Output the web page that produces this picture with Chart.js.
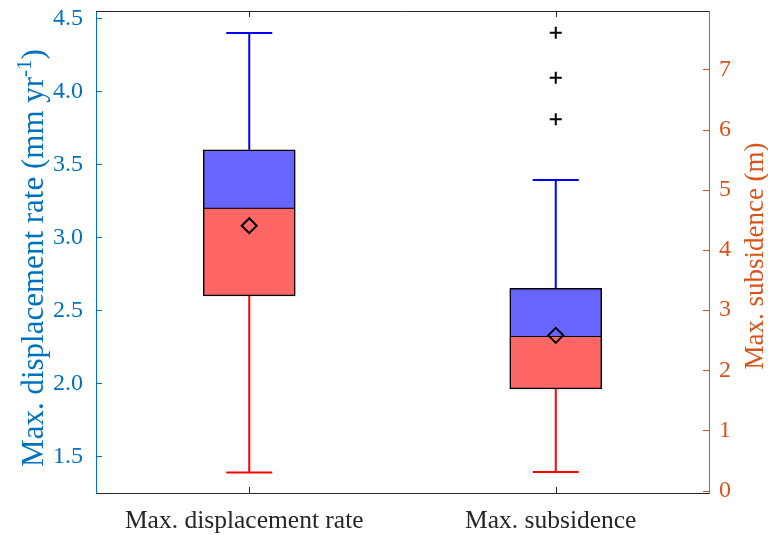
<!DOCTYPE html>
<html>
<head>
<meta charset="utf-8">
<script src="https://cdn.jsdelivr.net/npm/chart.js@4.4.1/dist/chart.umd.min.js"></script>
<style>
  html, body { margin: 0; padding: 0; background: #fff; }
  #wrap { width: 768px; height: 535px; }
</style>
</head>
<body>
<div id="wrap"><canvas id="box"></canvas></div>
<script>
const categories = ['Max. displacement rate', 'Max. subsidence'];
const lowerWhisker = [1.39, 0.31];
const q1 = [2.6, 1.69];
const medians = [3.2, 2.56];
const q3 = [3.6, 3.36];
const upperWhisker = [4.4, 5.16];
const means = [3.08, 2.58];
const outliers = [[], [6.17, 6.86, 7.61]];

const axisOf = ['y', 'y1'];
const BLUE_AXIS = '#0072bd';
const ORANGE_AXIS = '#d95319';
const DARK = '#262626';
const SERIF = '"Liberation Serif", "Times New Roman", serif';

// value only at category i, null elsewhere
function onlyAt(i, v) {
    return categories.map((_, j) => (j === i ? v : null));
}

const datasets = [];
const boxDatasetIndex = [];
categories.forEach((cat, i) => {
    boxDatasetIndex.push(datasets.length);
    datasets.push({
        type: 'bar',
        order: 2,
        data: onlyAt(i, [medians[i], q3[i]]),
        yAxisID: axisOf[i],
        backgroundColor: '#6666ff',
        borderColor: '#000',
        borderWidth: { top: 1.5, left: 1.5, right: 1.5, bottom: 0.8 },
        borderSkipped: false,
        barThickness: 92,
        grouped: false
    });
    datasets.push({
        type: 'bar',
        order: 2,
        data: onlyAt(i, [q1[i], medians[i]]),
        yAxisID: axisOf[i],
        backgroundColor: '#ff6666',
        borderColor: '#000',
        borderWidth: { top: 0.8, left: 1.5, right: 1.5, bottom: 1.5 },
        borderSkipped: false,
        barThickness: 92,
        grouped: false
    });
    datasets.push({
        type: 'line',
        order: 0,
        data: onlyAt(i, means[i]),
        yAxisID: axisOf[i],
        showLine: false,
        pointStyle: 'rectRot',
        pointRadius: 7.5,
        pointBorderWidth: 2,
        pointBorderColor: '#000',
        pointBackgroundColor: 'rgba(0,0,0,0)'
    });
    if (outliers[i].length) {
        datasets.push({
            type: 'line',
            order: 0,
            data: outliers[i].map(v => ({ x: cat, y: v })),
            yAxisID: axisOf[i],
            showLine: false,
            pointStyle: 'cross',
            pointRadius: 6,
            pointBorderWidth: 2,
            pointBorderColor: '#000'
        });
    }
});

// whiskers, frame, inward ticks and axis titles
const boxFrame = {
    id: 'boxFrame',
    beforeDatasetsDraw(chart) {
        const ctx = chart.ctx;
        const xs = chart.scales.x;
        categories.forEach((cat, i) => {
            const ys = chart.scales[axisOf[i]];
            const bar = chart.getDatasetMeta(boxDatasetIndex[i]).data[i];
            const cx = xs.getPixelForValue(i);
            const half = bar.width / 4;
            const parts = [
                { from: q3[i], to: upperWhisker[i], color: '#0000ff' },
                { from: q1[i], to: lowerWhisker[i], color: '#ff0000' }
            ];
            ctx.save();
            ctx.lineWidth = 2;
            parts.forEach(p => {
                const y0 = ys.getPixelForValue(p.from);
                const y1 = ys.getPixelForValue(p.to);
                ctx.strokeStyle = p.color;
                ctx.beginPath();
                ctx.moveTo(cx, y0);
                ctx.lineTo(cx, y1);
                ctx.moveTo(cx - half, y1);
                ctx.lineTo(cx + half, y1);
                ctx.stroke();
            });
            ctx.restore();
        });
    },
    afterDraw(chart) {
        const ctx = chart.ctx;
        const area = chart.chartArea;
        const xs = chart.scales.x;
        ctx.save();
        ctx.lineWidth = 1;

        // top edge of the box
        ctx.strokeStyle = DARK;
        ctx.beginPath();
        ctx.moveTo(area.left, area.top + 0.5);
        ctx.lineTo(area.right, area.top + 0.5);
        ctx.stroke();

        // category ticks, pointing inward on top and bottom
        ctx.beginPath();
        categories.forEach((c, i) => {
            const px = Math.round(xs.getPixelForValue(i)) + 0.5;
            ctx.moveTo(px, area.bottom);
            ctx.lineTo(px, area.bottom - 6);
            ctx.moveTo(px, area.top);
            ctx.lineTo(px, area.top + 6);
        });
        ctx.stroke();

        // y ticks pointing into the plot
        [['y', BLUE_AXIS, area.left, 1], ['y1', ORANGE_AXIS, area.right, -1]].forEach(([id, color, edge, dir]) => {
            const sc = chart.scales[id];
            ctx.strokeStyle = color;
            ctx.beginPath();
            sc.ticks.forEach(t => {
                const py = Math.round(sc.getPixelForValue(t.value)) + 0.5;
                ctx.moveTo(edge, py);
                ctx.lineTo(edge + dir * 6, py);
            });
            ctx.stroke();
        });

        // left title with superscript exponent
        const mainSize = 31;
        const supSize = 21;
        const pieces = [
            { text: 'Max. displacement rate (mm yr', size: mainSize, rise: 0 },
            { text: '-1', size: supSize, rise: 12 },
            { text: ')', size: mainSize, rise: 0 }
        ];
        let total = 0;
        pieces.forEach(p => {
            ctx.font = p.size + 'px ' + SERIF;
            p.w = ctx.measureText(p.text).width;
            total += p.w;
        });
        ctx.save();
        ctx.translate(43, 258);
        ctx.rotate(-Math.PI / 2);
        ctx.fillStyle = BLUE_AXIS;
        ctx.textBaseline = 'alphabetic';
        ctx.textAlign = 'left';
        let cursor = -total / 2;
        pieces.forEach(p => {
            ctx.font = p.size + 'px ' + SERIF;
            ctx.fillText(p.text, cursor, -p.rise);
            cursor += p.w;
        });
        ctx.restore();

        // right title
        ctx.save();
        ctx.translate(763, 256);
        ctx.rotate(-Math.PI / 2);
        ctx.fillStyle = ORANGE_AXIS;
        ctx.textAlign = 'center';
        ctx.textBaseline = 'alphabetic';
        ctx.font = '27px ' + SERIF;
        ctx.fillText('Max. subsidence (m)', 0, 0);
        ctx.restore();

        ctx.restore();
    }
};

function noEdgePadding(scale) {
    scale.paddingTop = 0;
    scale.paddingBottom = 0;
    scale.paddingLeft = 0;
    scale.paddingRight = 0;
}

new Chart(document.getElementById('box'), {
    type: 'bar',
    data: {
        labels: categories,
        datasets: datasets
    },
    options: {
        responsive: true,
        maintainAspectRatio: false,
        animation: false,
        layout: {
            padding: { top: 11, left: 0, right: 0, bottom: 0 }
        },
        plugins: {
            legend: { display: false },
            tooltip: { enabled: false }
        },
        scales: {
            x: {
                offset: true,
                grid: { display: false, drawTicks: false },
                border: { display: true, color: DARK, width: 1 },
                ticks: {
                    color: DARK,
                    font: { family: SERIF, size: 25.5 },
                    padding: 13,
                    labelOffset: -5,
                    maxRotation: 0
                },
                afterFit: scale => { noEdgePadding(scale); scale.height = 42; }
            },
            y: {
                position: 'left',
                min: 1.25,
                max: 4.55,
                grid: { display: false, drawTicks: false },
                border: { display: true, color: BLUE_AXIS, width: 1 },
                ticks: {
                    stepSize: 0.5,
                    includeBounds: false,
                    color: BLUE_AXIS,
                    font: { family: SERIF, size: 24 },
                    padding: 13,
                    callback: v => v.toFixed(1)
                },
                afterFit: scale => { noEdgePadding(scale); scale.width = 96; }
            },
            y1: {
                position: 'right',
                min: -0.04,
                max: 7.97,
                grid: { display: false, drawTicks: false },
                border: { display: true, color: ORANGE_AXIS, width: 1 },
                ticks: {
                    stepSize: 1,
                    includeBounds: false,
                    color: ORANGE_AXIS,
                    font: { family: SERIF, size: 24 },
                    padding: 10,
                    callback: v => v.toFixed(0)
                },
                afterFit: scale => { noEdgePadding(scale); scale.width = 59; }
            }
        }
    },
    plugins: [boxFrame]
});
</script>
</body>
</html>
